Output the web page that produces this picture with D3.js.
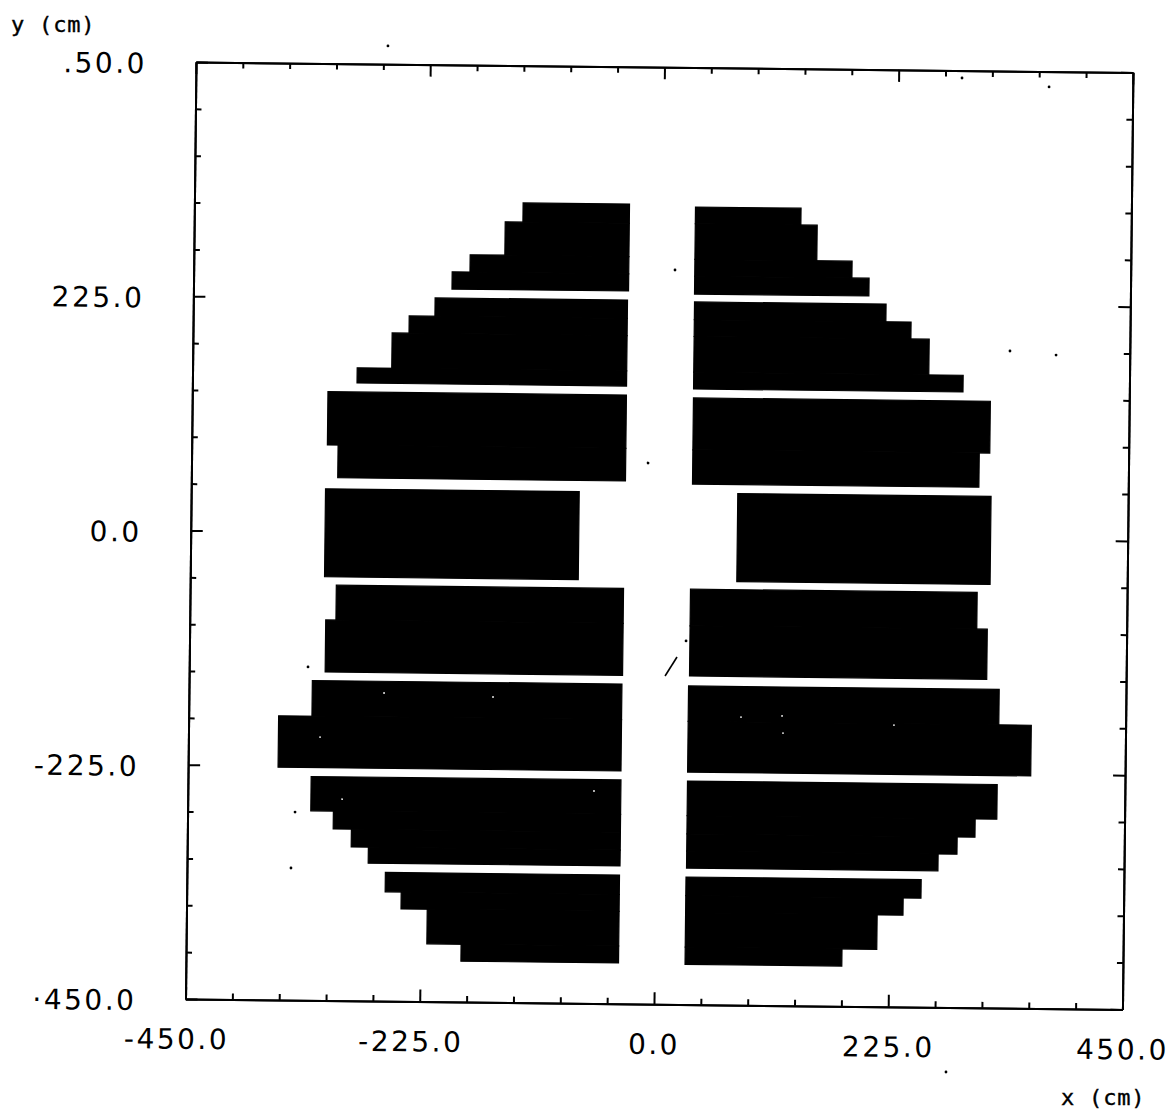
<!DOCTYPE html>
<html>
<head>
<meta charset="utf-8">
<script src="https://cdn.jsdelivr.net/npm/d3@7"></script>
<style>
	body { margin: 0; background: #fff; }
	text { font-family: 'DejaVu Sans', sans-serif; fill: #000; }
	.tick text { font-size: 28px; letter-spacing: 2.5px; }
	.unit { font-size: 22px; font-family: 'DejaVu Sans Mono', monospace; letter-spacing: 0.8px; stroke: #000; stroke-width: 0.4; }
	.domain, .tick line { stroke: #000; stroke-width: 2; }
</style>
</head>
<body>
<div id="chart"></div>
<script>
// every bar step is [x outer, x inner, y top, y bottom] in cm
const leftSteps = [
	[-134.3, -32.1, 318.2, 299.8], [-151.3, -32.1, 299.8, 267.8], [-184.6, -32.1, 267.8, 251.2], [-201.7, -32.1, 251.2, 234.7],
	[-217.8, -33, 226, 208.4], [-242.5, -33, 208.4, 191.9], [-258.7, -33, 191.9, 158], [-291.9, -33, 158, 143.4],
	[-319.7, -33, 134.8, 83.6], [-309.4, -33, 83.6, 52.2],
	[-321, -77.3, 41.5, -43],
	[-309.6, -33.7, -51, -84.5], [-319.4, -33.7, -84.5, -134.5],
	[-331.6, -34.2, -142.8, -177], [-363.6, -34.2, -177, -226.4],
	[-331.7, -34.1, -235, -268], [-310, -34.1, -268, -285.2], [-292.5, -34.1, -285.2, -302.3], [-276, -34.1, -302.3, -317.6],
	[-259.4, -34.5, -326.3, -345], [-244, -34.5, -345, -361.2], [-218.8, -34.5, -361.2, -394.5], [-185.9, -34.5, -394.5, -410.8],
];

const rightSteps = [
	[132.7, 31.3, 316.1, 300], [148.4, 31.3, 300, 265.8], [182.3, 31.3, 265.8, 249.6], [198.8, 31.3, 249.6, 232.5],
	[215.4, 31.4, 224.9, 207.9], [239.6, 31.4, 207.9, 191.7], [257.2, 31.4, 191.7, 157.4], [290.2, 31.4, 157.4, 141.3],
	[316.6, 31.4, 132.7, 82.9], [306.5, 31.4, 82.9, 50],
	[318.3, 75, 41.3, -43.2],
	[306, 30.6, -51, -86.2], [316.1, 30.6, -86.2, -134.4],
	[328.2, 29.8, -144, -178], [359.4, 29.8, -178, -226.7],
	[327.3, 29.8, -235.3, -268.6], [306.5, 29.8, -268.6, -286.1], [289.4, 29.8, -286.1, -302.7], [271.3, 29.8, -302.7, -318.9],
	[255.3, 29.4, -327.5, -345.3], [238.2, 29.4, -345.3, -361.8], [213.4, 29.4, -361.8, -394.9], [180, 29.4, -394.9, -411.4],
];

// scan dirt, kept because it is in the picture
const blackSpecks = [
	[369.6, 435.2], [379.2, 177.8], [334.9, 181.2], [12.3, 255.4], [-11.5, 69.7], [-350.1, -323.1],
	[-346.8, -269.3], [-335.9, -129.8], [285.9, 442.9], [26.9, -100.8], [281.2, -512], [-265.8, 467.5],
];
const whiteSpecks = [
	[-262.6, -154], [-157.9, -156.7], [-323.6, -197], [-301.8, -256.4], [-59.9, -245.9],
	[80.5, -173.3], [119.9, -171.8], [121, -188.2], [227.5, -179.3],
];
const scratch = [7.1, -134.7, 18.4, -116.3];

const minorTicks = [-405, -360, -315, -270, -180, -135, -90, -45, 45, 90, 135, 180, 270, 315, 360, 405];
const majorTicks = [-450, -225, 0, 225, 450];
const xTickLabels = ['-450.0', '-225.0', '0.0', '225.0', '450.0'];
const yTickLabels = ['·450.0', '-225.0', '0.0', '225.0', '.50.0'];

const width = 1171;
const height = 1111;
const frameSize = 937;
const scanAngle = 0.642; // the sheet was scanned slightly crooked

const svg = d3
	.select('#chart')
	.append('svg')
	.attr('width', width)
	.attr('height', height);

const plot = svg.append('g').attr('transform', `translate(196,62) rotate(${scanAngle})`);

const x = d3.scaleLinear().domain([-450, 450]).range([0, frameSize]);
const y = d3.scaleLinear().domain([-450, 450]).range([frameSize, 0]);

const bars = leftSteps.concat(rightSteps);
plot
	.selectAll('.bar')
	.data(bars)
	.join('rect')
	.attr('class', 'bar')
	.attr('x', (d) => Math.min(x(d[0]), x(d[1])))
	.attr('width', (d) => Math.abs(x(d[1]) - x(d[0])))
	.attr('y', (d) => y(d[2]))
	.attr('height', (d) => y(d[3]) - y(d[2]))
	.attr('fill', '#000')
	.attr('stroke', '#000')
	.attr('stroke-width', 1.2); // hides the seams between steps

plot
	.selectAll('.black-speck')
	.data(blackSpecks)
	.join('circle')
	.attr('class', 'black-speck')
	.attr('cx', (d) => x(d[0]))
	.attr('cy', (d) => y(d[1]))
	.attr('r', 1.4)
	.attr('fill', '#000');

plot
	.selectAll('.white-speck')
	.data(whiteSpecks)
	.join('circle')
	.attr('class', 'white-speck')
	.attr('cx', (d) => x(d[0]))
	.attr('cy', (d) => y(d[1]))
	.attr('r', 0.9)
	.attr('fill', '#fff');

plot
	.append('line')
	.attr('x1', x(scratch[0]))
	.attr('y1', y(scratch[1]))
	.attr('x2', x(scratch[2]))
	.attr('y2', y(scratch[3]))
	.attr('stroke', '#000')
	.attr('stroke-width', 1.6);

// minor ticks 6px, major ticks 12px, all pointing into the frame
const edges = [
	{ make: d3.axisLeft, scale: y, at: [0, 0], labels: yTickLabels, padding: 49 },
	{ make: d3.axisRight, scale: y, at: [frameSize, 0], labels: null, padding: 0 },
	{ make: d3.axisTop, scale: x, at: [0, 0], labels: null, padding: 0 },
	{ make: d3.axisBottom, scale: x, at: [0, frameSize], labels: xTickLabels, padding: 30 },
];

edges.forEach((e) => {
	const g = plot.append('g').attr('transform', `translate(${e.at})`);

	g.append('g')
		.call(e.make(e.scale).tickValues(minorTicks).tickSize(-6).tickSizeOuter(0).tickFormat(''));

	const major = g
		.append('g')
		.call(
			e.make(e.scale)
				.tickValues(majorTicks)
				.tickSize(-12)
				.tickSizeOuter(0)
				.tickPadding(e.padding)
				.tickFormat((d, i) => (e.labels ? e.labels[i] : ''))
		);

	if (e.make === d3.axisLeft) major.selectAll('text').attr('dy', '0.4em');
	// on the bottom axis the minus sign hangs out to the left of the centred number
	if (e.make === d3.axisBottom) major.selectAll('text').attr('dx', (d) => (d < 0 ? -9 : 0));
});

svg.append('text').attr('class', 'unit').attr('x', 11).attr('y', 32).text('y (cm)');
svg.append('text').attr('class', 'unit').attr('x', 1061).attr('y', 1105).text('x (cm)');
</script>
</body>
</html>
